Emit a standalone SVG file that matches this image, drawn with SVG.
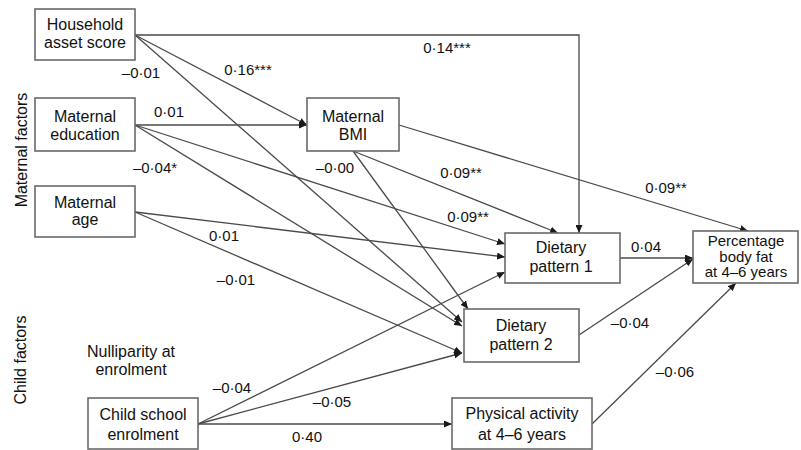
<svg xmlns="http://www.w3.org/2000/svg" width="801" height="450" viewBox="0 0 801 450">
<defs>
<marker id="arr" markerUnits="userSpaceOnUse" markerWidth="8" markerHeight="7" refX="8" refY="3.5" orient="auto">
<path d="M0,0 L8,3.5 L0,7 z" fill="#1a1a1a"/>
</marker>
<style>
.box{fill:#fff;stroke:#6a6a6a;stroke-width:1.6}
.nt{font-family:"Liberation Sans",Arial,sans-serif;font-size:16px;fill:#111;text-anchor:middle}
.lb{font-family:"Liberation Sans",Arial,sans-serif;font-size:15px;fill:#111;text-anchor:middle}
.sd{font-family:"Liberation Sans",Arial,sans-serif;font-size:15px;fill:#111;text-anchor:middle}
.c{fill:none;stroke:#4a4a4a;stroke-width:1.3;marker-end:url(#arr)}
</style>
</defs>
<rect width="801" height="450" fill="#fff"/>
<g id="connectors">
<polyline class="c" points="135,35 579,35 579,233"/>
<line class="c" x1="135" y1="35" x2="307" y2="125"/>
<line class="c" x1="135" y1="35" x2="462" y2="322"/>
<line class="c" x1="135" y1="125" x2="307" y2="125"/>
<line class="c" x1="135" y1="125" x2="505" y2="244"/>
<line class="c" x1="135" y1="125" x2="462" y2="326"/>
<line class="c" x1="135" y1="212" x2="505" y2="257"/>
<line class="c" x1="135" y1="212" x2="462" y2="353"/>
<line class="c" x1="399" y1="125" x2="748" y2="231"/>
<line class="c" x1="353" y1="151" x2="558" y2="233"/>
<line class="c" x1="353" y1="151" x2="468" y2="309"/>
<line class="c" x1="198" y1="424" x2="505" y2="272"/>
<line class="c" x1="198" y1="424" x2="462" y2="353"/>
<line class="c" x1="198" y1="424" x2="452" y2="424"/>
<line class="c" x1="620" y1="258" x2="693" y2="258"/>
<line class="c" x1="579" y1="335" x2="693" y2="259"/>
<line class="c" x1="592" y1="424" x2="736" y2="283"/>
</g>
<g id="labels">
<text class="lb" x="447" y="53">0·14***</text>
<text class="lb" x="248" y="75">0·16***</text>
<text class="lb" x="141" y="78">–0·01</text>
<text class="lb" x="169" y="117">0·01</text>
<text class="lb" x="155" y="173">–0·04*</text>
<text class="lb" x="335" y="173">–0·00</text>
<text class="lb" x="461" y="178">0·09**</text>
<text class="lb" x="468" y="222">0·09**</text>
<text class="lb" x="666" y="193">0·09**</text>
<text class="lb" x="224" y="241">0·01</text>
<text class="lb" x="236" y="285">–0·01</text>
<text class="lb" x="232" y="393">–0·04</text>
<text class="lb" x="332" y="407">–0·05</text>
<text class="lb" x="307" y="442">0·40</text>
<text class="lb" x="646" y="252">0·04</text>
<text class="lb" x="630" y="328">–0·04</text>
<text class="lb" x="675" y="377">–0·06</text>
</g>
<g id="side-labels">
<text class="nt" transform="translate(27,150) rotate(-90)">Maternal factors</text>
<text class="nt" transform="translate(26,360) rotate(-90)">Child factors</text>
</g>
<g id="household">
<rect class="box" x="35" y="9" width="100" height="51"/>
<text class="nt" x="85" y="30">Household</text>
<text class="nt" x="85" y="48">asset score</text>
</g>
<g id="maternal-education">
<rect class="box" x="35" y="98" width="100" height="53"/>
<text class="nt" x="85" y="122">Maternal</text>
<text class="nt" x="85" y="140">education</text>
</g>
<g id="maternal-age">
<rect class="box" x="35" y="186" width="100" height="51"/>
<text class="nt" x="85" y="208">Maternal</text>
<text class="nt" x="85" y="225">age</text>
</g>
<g id="maternal-bmi">
<rect class="box" x="307" y="98" width="92" height="53"/>
<text class="nt" x="353" y="122">Maternal</text>
<text class="nt" x="353" y="140">BMI</text>
</g>
<g id="dietary-pattern-1">
<rect class="box" x="505" y="233" width="115" height="50"/>
<text class="nt" x="561" y="253">Dietary</text>
<text class="nt" x="561" y="272">pattern 1</text>
</g>
<g id="dietary-pattern-2">
<rect class="box" x="464" y="309" width="115" height="53"/>
<text class="nt" x="521" y="331">Dietary</text>
<text class="nt" x="521" y="350">pattern 2</text>
</g>
<g id="percentage-body-fat">
<rect class="box" x="693" y="231" width="105" height="52"/>
<text class="sd" x="746" y="246">Percentage</text>
<text class="sd" x="746" y="261.5">body fat</text>
<text class="sd" x="746" y="277">at 4–6 years</text>
</g>
<g id="nulliparity">
<text class="nt" x="131" y="357">Nulliparity at</text>
<text class="nt" x="131" y="375">enrolment</text>
</g>
<g id="child-school">
<rect class="box" x="88" y="398" width="110" height="51"/>
<text class="nt" x="143" y="420">Child school</text>
<text class="nt" x="143" y="440">enrolment</text>
</g>
<g id="physical-activity">
<rect class="box" x="452" y="398" width="140" height="51"/>
<text class="nt" x="522" y="419">Physical activity</text>
<text class="nt" x="522" y="440">at 4–6 years</text>
</g>
</svg>
